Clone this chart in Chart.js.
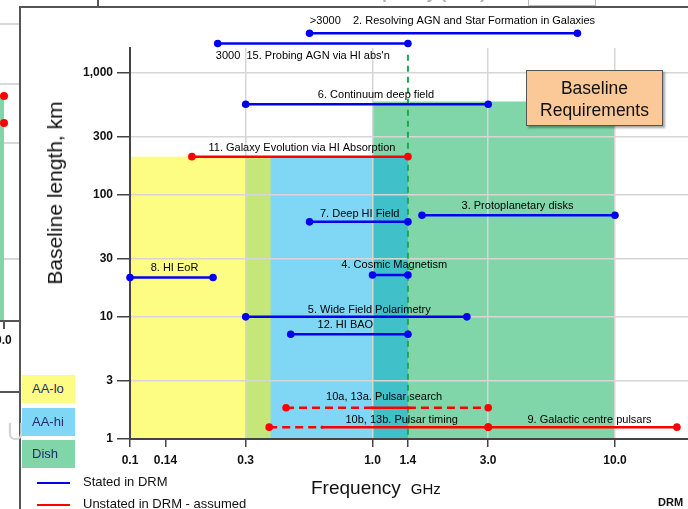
<!DOCTYPE html>
<html>
<head>
<meta charset="utf-8">
<title>Baseline Requirements</title>
<script src="https://cdn.jsdelivr.net/npm/chart.js@4.4.1/dist/chart.umd.min.js"></script>
<style>
  html, body { margin: 0; padding: 0; background: #fff; }
  #slide { position: relative; width: 688px; height: 509px; overflow: hidden;
           font-family: "Liberation Sans", Arial, sans-serif; color: #111; }
  #slide > * { position: absolute; }
  #chart { left: 0; top: 0; }
  .hline { height: 0; border-top: 2px solid #555; }
  .vline { width: 0; border-left: 2px solid #555; }
  .grey { border-color: #d8d8d8; }
  .band { left: 22px; width: 53px; height: 28px; box-sizing: border-box; padding-left: 10px;
          font-size: 13px; line-height: 28px; color: #1f2d6e; }
  .key { left: 37px; width: 33px; height: 0; border-top: 2px solid; }
  .keytext { left: 83px; font-size: 13px; line-height: 16px; color: #111; }
  #note { left: 526px; top: 70px; width: 137px; height: 56px; box-sizing: border-box;
          background: #fbc897; border: 1px solid #555; box-shadow: 2px 2px 2px rgba(0,0,0,0.35);
          text-align: center; font-size: 17.5px; line-height: 22px; padding-top: 6px; color: #111; }
</style>
</head>
<body>
<div id="slide">
  <canvas id="chart" width="688" height="509"></canvas>

  <!-- bits of the slide around the chart -->
  <div class="hline" style="left:20px; top:6px; width:668px"></div>
  <div class="vline" style="left:19px; top:6px; height:503px"></div>
  <div class="vline" style="left:97px; top:0; height:7px"></div>
  <div style="left:350px; top:-16px; font-size:17px; font-weight:bold; color:#a8b1c3">Frequency (GHz)</div>
  <div style="left:528px; top:-10px; width:66px; height:14px; border:1px solid #bbb"></div>

  <div class="hline grey" style="left:0; top:23px; width:19px"></div>
  <div class="hline grey" style="left:0; top:83px; width:19px"></div>
  <div class="hline grey" style="left:0; top:142px; width:19px"></div>
  <div class="hline grey" style="left:0; top:258px; width:19px"></div>
  <div style="left:0; top:97px; width:4px; height:223px; background:#80d6a9"></div>
  <div style="left:0; top:92px; width:8px; height:8px; border-radius:50%; background:#f00"></div>
  <div style="left:0; top:119px; width:8px; height:8px; border-radius:50%; background:#f00"></div>
  <div class="hline" style="left:0; top:320px; width:19px"></div>
  <div class="vline" style="left:3px; top:321px; height:8px"></div>
  <div style="left:-5px; top:333px; font-size:12px; font-weight:bold">0.0</div>
  <div class="hline" style="left:0; top:391px; width:19px"></div>
  <div style="left:7px; top:418px; font-size:24px; color:#d4d4d4">U</div>

  <!-- band key -->
  <div class="band" style="top:375px; background:#fdfd84">AA-lo</div>
  <div class="band" style="top:408px; background:#80d7f5">AA-hi</div>
  <div class="band" style="top:440px; background:#80d6a9">Dish</div>

  <!-- line key -->
  <div class="key" style="top:482px; border-color:#0000f0"></div>
  <div class="keytext" style="top:474px">Stated in DRM</div>
  <div class="key" style="top:504px; border-color:#ff0000"></div>
  <div class="keytext" style="top:496px">Unstated in DRM - assumed</div>
  <div style="left:658px; top:496px; font-size:11px; font-weight:bold">DRM</div>

  <!-- axis titles -->
  <div style="left:55px; top:193px; transform:translate(-50%,-50%) rotate(-90deg); white-space:nowrap; font-size:21px; line-height:24px">Baseline length, km</div>
  <div style="left:311px; top:477px; font-size:19px; line-height:22px; white-space:nowrap">Frequency<span style="font-size:15px; margin-left:10px">GHz</span></div>

  <div id="note">Baseline<br>Requirements</div>
</div>

<script>
// axis ticks
const freqTicks = [0.1, 0.14, 0.3, 1.0, 1.4, 3.0, 10.0];
const freqTickLabels = ['0.1', '0.14', '0.3', '1.0', '1.4', '3.0', '10.0'];
const kmTicks = [1, 3, 10, 30, 100, 300, 1000];
const kmTickLabels = ['1', '3', '10', '30', '100', '300', '1,000'];
const freqMin = 0.1, freqMax = 20;
const kmMin = 1, kmMax = 1590;

// receiver bands: frequency range (GHz) and longest baseline (km)
const bandNames = ['AA-lo', 'AA-hi', 'Dish'];
const bandLow = [0.1, 0.3, 1.0];
const bandHigh = [0.38, 1.4, 10];
const bandTopKm = [205, 200, 580];

// HI line marker
const hiLineGHz = 1.4;
const hiLineTopKm = 1400;

// science requirements
const reqNames = [
    '>3000    2. Resolving AGN and Star Formation in Galaxies',
    '3000  15. Probing AGN via HI abs\'n',
    '6. Continuum deep field',
    '11. Galaxy Evolution via HI Absorption',
    '7. Deep HI Field',
    '3. Protoplanetary disks',
    '8. HI EoR',
    '4. Cosmic Magnetism',
    '5. Wide Field Polarimetry',
    '12. HI BAO',
    '10a, 13a. Pulsar search',
    '10b, 13b. Pulsar timing',
    '9. Galactic centre pulsars'
];
const reqKm = [2100, 1730, 550, 205, 60, 68, 21, 22, 10, 7.2, 1.8, 1.25, 1.25];
const reqFreq = [
    [0.55, 7.0], [0.23, 1.4], [0.3, 3.0], [0.18, 1.4], [0.55, 1.4], [1.6, 10],
    [0.1, 0.22], [1.0, 1.4], [0.3, 2.45], [0.46, 1.4],
    [0.44, 1.0, 1.4, 3.0], [0.375, 0.62, 3.0], [3.0, 18]
];
// per segment: range assumed (dashed) rather than stated
const reqDashed = [
    [false], [false], [false], [false], [false], [false],
    [false], [false], [false], [false],
    [true, false, true], [true, false], [false]
];
const reqStated = [true, true, true, false, true, true, true, true, true, true, false, false, false];

// styling
const blue = '#0000f0';
const red = '#ff0000';
const bandColours = ['#fdfd84', '#80d7f5', '#80d6a9'];
const overlapColours = { '0-1': '#c5e77a', '1-2': '#40c1ca' };
const labelShift = [[9, -12], [-10, 12], [9, -9], [2, -9], [1, -8], [-1, -9],
                    [3, -10], [4, -10], [13, -7], [-4, -9], [-3, -11], [23, -7], [7, -7]];
const labelFont = '11px "Liberation Sans", Arial, sans-serif';

// coloured receiver bands, under the grid
const bandPlugin = {
    id: 'bands',
    beforeDraw(chart) {
        const { ctx, chartArea, scales: { x, y } } = chart;
        ctx.save();
        const box = (lo, hi, top, colour) => {
            const x0 = x.getPixelForValue(lo);
            const x1 = x.getPixelForValue(hi);
            const y0 = y.getPixelForValue(top);
            ctx.fillStyle = colour;
            ctx.fillRect(x0, y0, x1 - x0, chartArea.bottom - y0);
        };
        bandNames.forEach((n, i) => box(bandLow[i], bandHigh[i], bandTopKm[i], bandColours[i]));
        for (let i = 0; i < bandNames.length; i++) {
            for (let j = i + 1; j < bandNames.length; j++) {
                const lo = Math.max(bandLow[i], bandLow[j]);
                const hi = Math.min(bandHigh[i], bandHigh[j]);
                const c = overlapColours[i + '-' + j];
                if (hi > lo && c) box(lo, hi, Math.min(bandTopKm[i], bandTopKm[j]), c);
            }
        }
        ctx.restore();
    },
    beforeDatasetsDraw(chart) {
        const { ctx, chartArea, scales: { x, y } } = chart;
        const px = x.getPixelForValue(hiLineGHz);
        ctx.save();
        ctx.strokeStyle = '#1aaa50';
        ctx.lineWidth = 2;
        ctx.setLineDash([6, 5]);
        ctx.beginPath();
        ctx.moveTo(px, y.getPixelForValue(hiLineTopKm));
        ctx.lineTo(px, chartArea.bottom);
        ctx.stroke();
        ctx.restore();
    }
};

// requirement names above each line
const labelPlugin = {
    id: 'reqLabels',
    afterDatasetsDraw(chart) {
        const { ctx, scales: { x, y } } = chart;
        ctx.save();
        ctx.font = labelFont;
        ctx.fillStyle = '#000';
        ctx.textAlign = 'center';
        ctx.textBaseline = 'middle';
        reqNames.forEach((name, i) => {
            const f = reqFreq[i];
            const x0 = x.getPixelForValue(f[0]);
            const x1 = x.getPixelForValue(f[f.length - 1]);
            const py = y.getPixelForValue(reqKm[i]);
            ctx.fillText(name, (x0 + x1) / 2 + labelShift[i][0], py + labelShift[i][1]);
        });
        ctx.restore();
    }
};

const datasets = reqNames.map((name, i) => {
    const colour = reqStated[i] ? blue : red;
    const freqs = reqFreq[i];
    const last = freqs.length - 1;
    const offTop = reqKm[i] > kmMax;
    return {
        label: name,
        data: freqs.map(f => ({ x: f, y: reqKm[i] })),
        borderColor: colour,
        backgroundColor: colour,
        borderWidth: 2.5,
        pointRadius: freqs.map((f, k) => (k === 0 || k === last) ? 3.8 : 1.6),
        pointBackgroundColor: colour,
        // wide see-through border so points above the plot are still drawn
        pointBorderWidth: offTop ? 16 : 0,
        pointBorderColor: 'rgba(0,0,0,0)',
        clip: false,
        segment: {
            borderDash: ctx => reqDashed[i][ctx.p0DataIndex] ? [8, 5] : undefined
        }
    };
});

const hiddenGrid = [0.14, 1.4];

new Chart(document.getElementById('chart'), {
    type: 'line',
    data: { datasets: datasets },
    plugins: [bandPlugin, labelPlugin],
    options: {
        responsive: false,
        animation: false,
        events: [],
        layout: { autoPadding: false, padding: { top: 48, left: 0, right: 0, bottom: 0 } },
        plugins: { legend: { display: false }, tooltip: { enabled: false } },
        scales: {
            x: {
                type: 'logarithmic',
                min: freqMin,
                max: freqMax,
                afterBuildTicks: scale => { scale.ticks = freqTicks.map(v => ({ value: v })); },
                afterFit: scale => {
                    scale.height = 70;
                    scale.paddingLeft = 0;
                    scale.paddingRight = 0;
                },
                ticks: {
                    autoSkip: false, maxRotation: 0, minRotation: 0, padding: 6,
                    color: '#111', font: { size: 12, weight: 'bold' },
                    callback: (v, i) => freqTickLabels[i]
                },
                grid: {
                    color: ctx => (ctx.tick && hiddenGrid.includes(ctx.tick.value)) ? 'rgba(0,0,0,0)' : '#d6d6d6',
                    lineWidth: 1.5,
                    tickColor: '#444',
                    tickLength: 8,
                    tickWidth: 1.5
                },
                border: { color: '#444', width: 2 }
            },
            y: {
                type: 'logarithmic',
                min: kmMin,
                max: kmMax,
                afterBuildTicks: scale => { scale.ticks = kmTicks.map(v => ({ value: v })); },
                afterFit: scale => {
                    scale.width = 130;
                    scale.paddingTop = 0;
                    scale.paddingBottom = 0;
                },
                ticks: {
                    autoSkip: false, padding: 4,
                    color: '#111', font: { size: 12, weight: 'bold' },
                    callback: (v, i) => kmTickLabels[i]
                },
                grid: {
                    color: '#d6d6d6',
                    lineWidth: 1.5,
                    tickColor: '#444',
                    tickLength: 13,
                    tickWidth: 1.5
                },
                border: { color: '#444', width: 2 }
            }
        }
    }
});
</script>
</body>
</html>
